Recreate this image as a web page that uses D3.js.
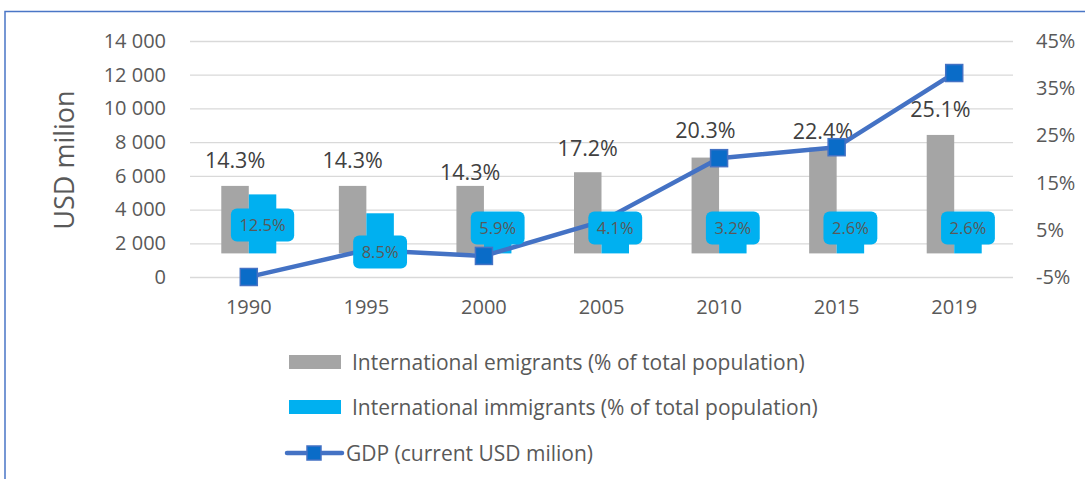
<!DOCTYPE html>
<html>
<head>
<meta charset="utf-8">
<script src="https://cdn.jsdelivr.net/npm/d3@7"></script>
<style>
  body { margin: 0; background: #fff; }
  svg { font-family: "Open Sans", "Noto Sans", sans-serif; }
</style>
</head>
<body>
<div class="container"></div>
<script>
// Data
const years = ["1990", "1995", "2000", "2005", "2010", "2015", "2019"];
const emigrants = [14.3, 14.3, 14.3, 17.2, 20.3, 22.4, 25.1];
const immigrants = [12.5, 8.5, 5.9, 4.1, 3.2, 2.6, 2.6];
const gdp = [0, 1600, 1250, 3300, 7050, 7700, 12100];
const leftTicks = [0, 2000, 4000, 6000, 8000, 10000, 12000, 14000];
const rightTicks = [-5, 5, 15, 25, 35, 45];

// label placement tweaks (as moved by hand in the original)
const grayLabelGap = [25, 25, 13, 24, 27, 16, 25];
const calloutAt = [6.0, 0.3, 5.4, 5.4, 5.4, 5.4, 5.4];

const w = 1085;
const h = 479;
const plotL = 190, plotR = 1013, plotT = 41, plotB = 277;
const barW = 27.5;

const svg = d3.select(".container")
  .append("svg")
  .attr("width", w)
  .attr("height", h);

// frame
svg.append("path")
  .attr("d", `M5,${h} V11.5 H${w}`)
  .attr("fill", "none")
  .attr("stroke", "#4a76c6")
  .attr("stroke-width", 1.5);

// Scales
const xScale = d3.scaleBand().domain(years).range([plotL, plotR]);
const yL = d3.scaleLinear().domain([0, 14000]).range([plotB, plotT]);
const yR = d3.scaleLinear().domain([-5, 45]).range([plotB, plotT]);
const cx = d => xScale(d) + xScale.bandwidth() / 2;

const fmtNum = d => d3.format(",")(d).replace(/,/g, " ");

// gridlines + left axis
const yAxis = d3.axisLeft(yL).tickValues(leftTicks).tickFormat(fmtNum)
  .tickSize(-(plotR - plotL)).tickPadding(24);
const gy = svg.append("g")
  .attr("transform", `translate(${plotL},0)`)
  .call(yAxis);
gy.select(".domain").remove();
gy.selectAll(".tick line").attr("stroke", "#d9d9d9").attr("stroke-width", 1.3);
gy.selectAll("text").attr("fill", "#595959").style("font-size", "20px");
gy.attr("font-family", null);

// right axis
const yAxisR = d3.axisRight(yR).tickValues(rightTicks).tickFormat(d => d + "%")
  .tickSize(0).tickPadding(23);
const gr = svg.append("g")
  .attr("transform", `translate(${plotR},0)`)
  .call(yAxisR);
gr.select(".domain").remove();
gr.selectAll("text").attr("fill", "#595959").style("font-size", "20px");
gr.attr("font-family", null);

// x axis
const xAxis = d3.axisBottom(xScale).tickSize(0).tickPadding(23);
const gx = svg.append("g")
  .attr("transform", `translate(0,${plotB})`)
  .call(xAxis);
gx.select(".domain").remove();
gx.selectAll("text").attr("fill", "#595959").style("font-size", "20px");
gx.attr("font-family", null);

// axis title
svg.append("text")
  .attr("transform", "translate(74,160) rotate(-90)")
  .attr("text-anchor", "middle")
  .attr("fill", "#595959")
  .style("font-size", "27px")
  .text("USD milion");

// bars
svg.selectAll(".emi")
  .data(years)
  .enter()
  .append("rect")
  .attr("class", "emi")
  .attr("x", d => cx(d) - barW)
  .attr("y", (d, i) => yR(emigrants[i]))
  .attr("width", barW)
  .attr("height", (d, i) => yR(0) - yR(emigrants[i]))
  .attr("fill", "#a5a5a5");

svg.selectAll(".imm")
  .data(years)
  .enter()
  .append("rect")
  .attr("class", "imm")
  .attr("x", d => cx(d))
  .attr("y", (d, i) => yR(immigrants[i]))
  .attr("width", barW)
  .attr("height", (d, i) => yR(0) - yR(immigrants[i]))
  .attr("fill", "#00b0f0");

// emigrant labels
svg.selectAll(".emiLbl")
  .data(years)
  .enter()
  .append("text")
  .attr("x", d => cx(d) - barW / 2)
  .attr("y", (d, i) => yR(emigrants[i]) - grayLabelGap[i])
  .attr("dy", "0.35em")
  .attr("text-anchor", "middle")
  .attr("fill", "#404040")
  .style("font-size", "21.5px")
  .text((d, i) => emigrants[i].toFixed(1) + "%");

// GDP line
const line = d3.line()
  .x((d, i) => cx(years[i]))
  .y(d => yL(d));
svg.append("path")
  .datum(gdp)
  .attr("d", line)
  .attr("fill", "none")
  .attr("stroke", "#4472c4")
  .attr("stroke-width", 4.5)
  .attr("stroke-linejoin", "round");

svg.selectAll(".mk")
  .data(gdp)
  .enter()
  .append("rect")
  .attr("x", (d, i) => cx(years[i]) - 8.5)
  .attr("y", d => yL(d) - 8.5)
  .attr("width", 17)
  .attr("height", 17)
  .attr("fill", "#0a6cc8")
  .attr("stroke", "#4472c4")
  .attr("stroke-width", 1.5);

// immigrant callouts
const callouts = svg.selectAll(".co")
  .data(years)
  .enter()
  .append("g")
  .attr("transform", (d, i) => `translate(${cx(d) + barW / 2},${yR(calloutAt[i])})`);

callouts.append("rect").attr("class", "cobox");
callouts.append("text")
  .attr("text-anchor", "middle")
  .attr("dy", "0.35em")
  .attr("fill", "#595959")
  .style("font-size", "16.5px")
  .text((d, i) => immigrants[i].toFixed(1) + "%");
callouts.each(function() {
  const g = d3.select(this);
  const tw = g.select("text").node().getComputedTextLength() + 17;
  g.select("rect")
    .attr("x", -tw / 2).attr("y", -16.5)
    .attr("width", tw).attr("height", 33)
    .attr("rx", 6)
    .attr("fill", "#00b0f0");
});

// legend
const legend = svg.append("g").style("font-size", "21px").attr("fill", "#595959");
legend.append("rect").attr("x", 289).attr("y", 355).attr("width", 52).attr("height", 14).attr("fill", "#a5a5a5");
legend.append("text").attr("x", 352).attr("y", 363).attr("dy", "0.35em").text("International emigrants (% of total population)");
legend.append("rect").attr("x", 289).attr("y", 400).attr("width", 52).attr("height", 14).attr("fill", "#00b0f0");
legend.append("text").attr("x", 352).attr("y", 408).attr("dy", "0.35em").text("International immigrants (% of total population)");
legend.append("line").attr("x1", 287).attr("x2", 342).attr("y1", 453).attr("y2", 453)
  .attr("stroke", "#4472c4").attr("stroke-width", 4.5).attr("stroke-linecap", "round");
legend.append("rect").attr("x", 307).attr("y", 446).attr("width", 14).attr("height", 14)
  .attr("fill", "#0a6cc8").attr("stroke", "#4472c4").attr("stroke-width", 1.5);
legend.append("text").attr("x", 346).attr("y", 454).attr("dy", "0.35em").text("GDP (current USD milion)");
</script>
</body>
</html>
